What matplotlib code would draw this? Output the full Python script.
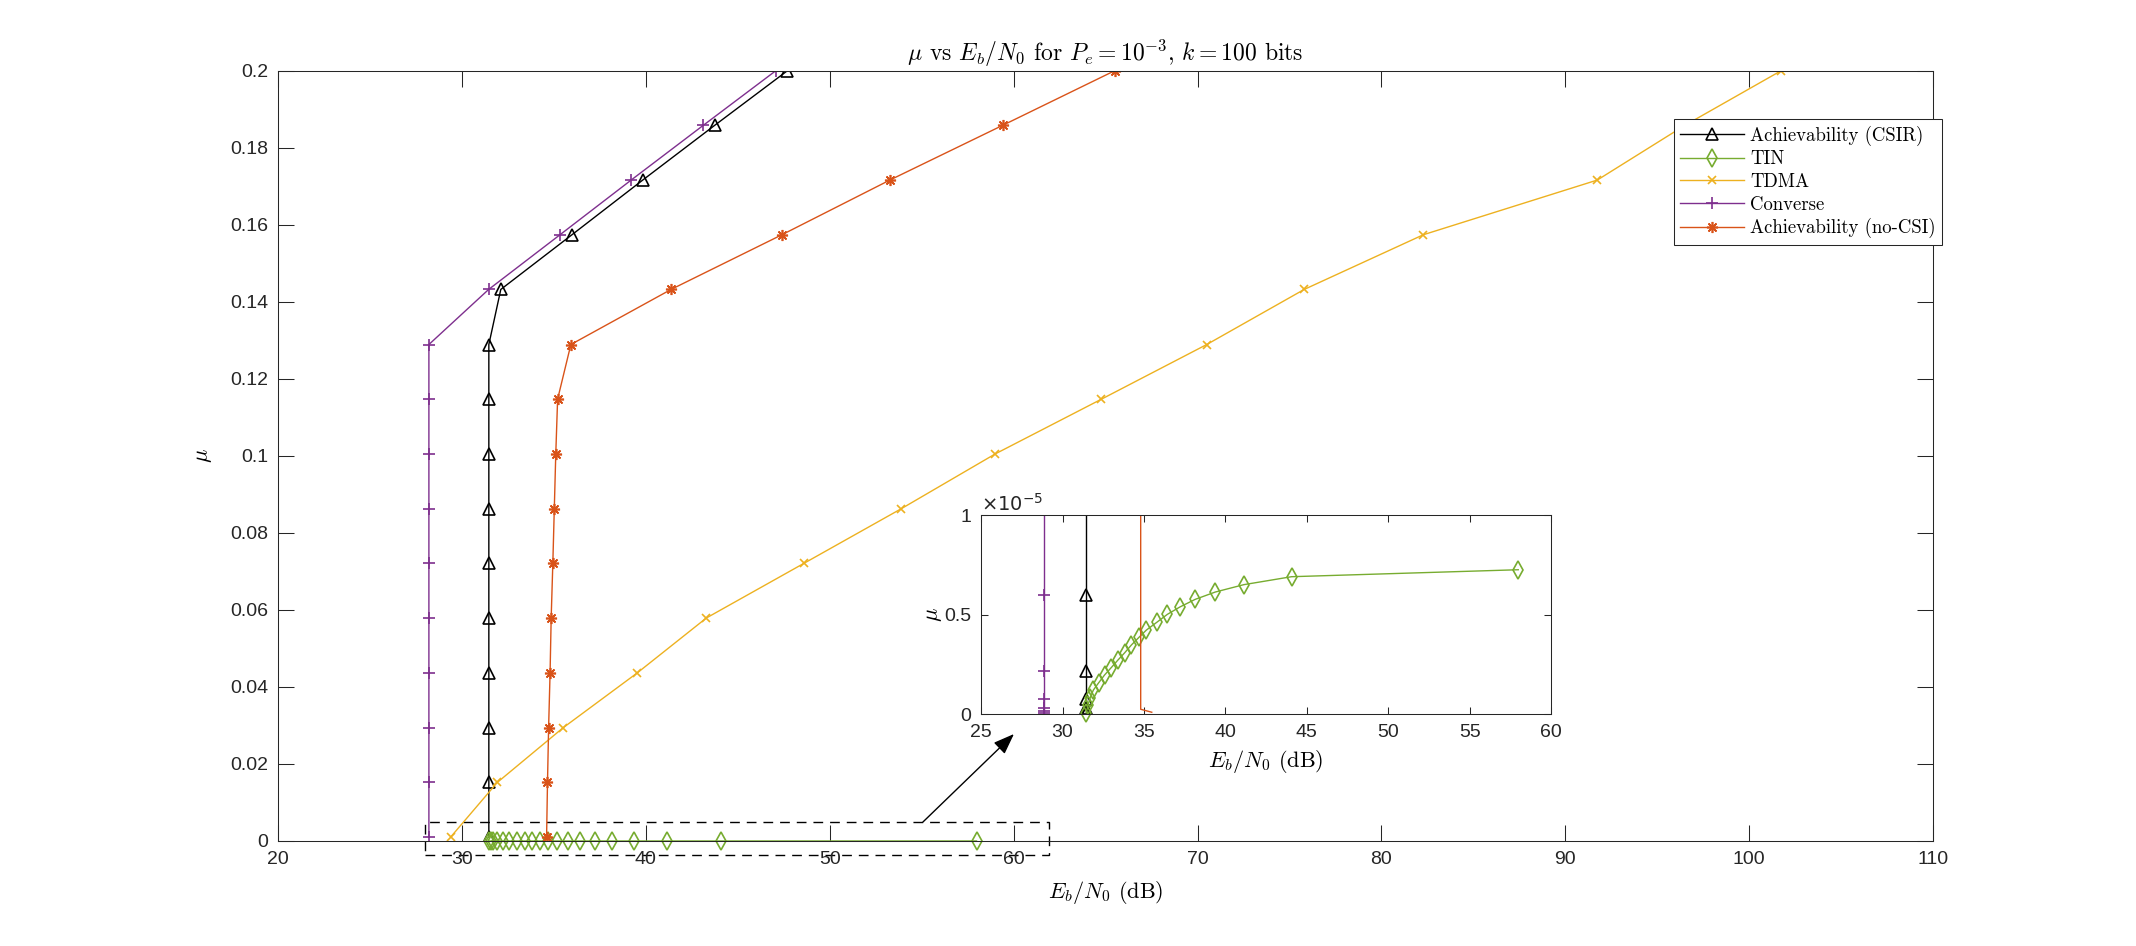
import numpy as np
import matplotlib
matplotlib.use('Agg')
import matplotlib.pyplot as plt
from matplotlib.patches import Rectangle
from matplotlib.ticker import FuncFormatter

# datos
mu = [0.001, 0.0152, 0.0294, 0.0436, 0.0579, 0.0721, 0.0863, 0.1005,
      0.1147, 0.1289, 0.1432, 0.1574, 0.1716, 0.1858, 0.2]

csir = [31.46, 31.46, 31.46, 31.46, 31.46, 31.46, 31.46, 31.46,
        31.46, 31.46, 32.11, 35.98, 39.83, 43.74, 47.7]
conv = [28.2, 28.2, 28.2, 28.2, 28.2, 28.2, 28.2, 28.2,
        28.2, 28.2, 31.45, 35.33, 39.2, 43.12, 47.07]
nocsi = [34.6, 34.65, 34.71, 34.79, 34.85, 34.94, 35.02, 35.1,
         35.2, 35.92, 41.37, 47.4, 53.27, 59.4, 65.5]
tdma = [29.38, 31.92, 35.5, 39.52, 43.29, 48.6, 53.9, 59.0,
        64.77, 70.5, 75.8, 82.28, 91.74, 96.5, 101.74]

# TIN (mu en unidades de 1e-5)
tin_ebn0 = [31.46, 31.56, 31.7, 31.89, 32.22, 32.58, 32.99, 33.4, 33.82, 34.23,
            34.69, 35.15, 35.79, 36.44, 37.21, 38.14, 39.38, 41.13, 44.06, 57.98]
tin_mu = [0.006, 0.044, 0.082, 0.12, 0.157, 0.196, 0.233, 0.271, 0.308, 0.347,
          0.385, 0.422, 0.461, 0.501, 0.538, 0.576, 0.613, 0.650, 0.690, 0.725]

# zoom (mu en unidades de 1e-5)
small_mu = [0.007, 0.015, 0.028, 0.077, 0.215, 0.6, 100]
conv_zoom = [28.88, 28.88, 28.88, 28.88, 28.88, 28.88, 28.88]
csir_zoom = [31.47, 31.47, 31.47, 31.47, 31.47, 31.47, 31.47]
nocsi_zoom = [35.48, 34.8, 34.8]
nocsi_zoom_mu = [0.009, 0.024, 100]

labels = ['Achievability (CSIR)', 'TIN', 'TDMA', 'Converse', 'Achievability (no-CSI)']

c_csir = 'k'
c_tin = '#77AC30'
c_tdma = '#EDB120'
c_conv = '#7E2F8E'
c_nocsi = '#D95319'
gris = '#262626'

plt.rcParams['mathtext.fontset'] = 'cm'
plt.rcParams['font.family'] = ['Liberation Sans', 'DejaVu Sans']

asterisco = (8, 2, 0)

fig = plt.figure(figsize=(21.36, 9.46), dpi=100)
ax = fig.add_axes([0.1302, 0.111, 0.7748, 0.8143])

mu = np.array(mu)
tin_real = np.array(tin_mu) * 1e-5

ax.plot(csir, mu, color=c_csir, lw=1, marker='^', ms=9, mfc='none', mew=1.2, label=labels[0])
ax.plot(tin_ebn0, tin_real, color=c_tin, lw=1, marker='d', ms=9, mfc='none', mew=1.2,
        label=labels[1], clip_on=False)
ax.plot(tdma, mu, color=c_tdma, lw=1, marker='x', ms=6, mew=1.2, label=labels[2])
ax.plot(conv, mu, color=c_conv, lw=1, marker='+', ms=9, mew=1.2, label=labels[3])
ax.plot(nocsi, mu, color=c_nocsi, lw=1, marker=asterisco, ms=8, mew=1.2, label=labels[4])

ax.set_xlim(20, 110)
ax.set_ylim(0, 0.2)
ax.set_xticks(np.arange(20, 111, 10))
ax.set_yticks(np.arange(0, 0.201, 0.02))
ax.yaxis.set_major_formatter(FuncFormatter(lambda v, p: '%g' % round(v, 4)))

ax.tick_params(direction='in', top=True, right=True, length=11.5, width=0.75,
               colors=gris, labelsize=14, pad=7)
for s in ax.spines.values():
    s.set_color(gris)
    s.set_linewidth(0.75)

ax.set_title(r'$\mu$ vs $E_b/N_0$ for $P_e=10^{-3}$, $k=100$ bits',
             fontfamily='cmr10', fontsize=17, pad=7)
ax.set_xlabel(r'$E_b/N_0$ (dB)', fontfamily='cmr10', fontsize=16, labelpad=8)
ax.set_ylabel(r'$\mu$', fontfamily='cmr10', fontsize=16, labelpad=12)

leg = ax.legend(loc='upper right', bbox_to_anchor=(0.9092, 0.8742),
                bbox_transform=fig.transFigure, prop={'family': 'cmr10', 'size': 13.5},
                fancybox=False, edgecolor=gris, framealpha=1, borderpad=0.35,
                handlelength=3.4, handletextpad=0.3, labelspacing=0.25, borderaxespad=0)
leg.get_frame().set_linewidth(0.75)

# rectangulo de la zona ampliada
rect = Rectangle((28, -0.0036), 33.9, 0.0085, fill=False, ec='k', lw=1,
                 ls=(0, (7, 5)), clip_on=False)
ax.add_patch(rect)

ax.annotate('', xy=(0.4747, 0.2241), xycoords='figure fraction',
            xytext=(0.4321, 0.1311), textcoords='figure fraction',
            arrowprops=dict(arrowstyle='-|>,head_length=0.8,head_width=0.3',
                            color='k', lw=1, mutation_scale=16, shrinkA=0, shrinkB=0),
            annotation_clip=False)

# grafico ampliado
axins = fig.add_axes([0.4593, 0.2452, 0.2669, 0.2104])
axins.plot(csir_zoom, small_mu, color=c_csir, lw=1, marker='^', ms=9, mfc='none', mew=1.2)
axins.plot(tin_ebn0, tin_mu, color=c_tin, lw=1, marker='d', ms=9, mfc='none', mew=1.2,
           clip_on=False)
axins.plot(conv_zoom, small_mu, color=c_conv, lw=1, marker='+', ms=9, mew=1.2)
axins.plot(nocsi_zoom, nocsi_zoom_mu, color=c_nocsi, lw=1)
axins.set_xlim(25, 60)
axins.set_ylim(0, 1)
axins.set_xticks(np.arange(25, 61, 5))
axins.set_yticks([0, 0.5, 1])
axins.yaxis.set_major_formatter(FuncFormatter(lambda v, p: '%g' % v))
axins.tick_params(direction='in', top=True, right=True, length=5, width=0.75,
                  colors=gris, labelsize=14, pad=7)
for s in axins.spines.values():
    s.set_color(gris)
    s.set_linewidth(0.75)
axins.set_xlabel(r'$E_b/N_0$ (dB)', fontfamily='cmr10', fontsize=16, labelpad=5)
axins.set_ylabel(r'$\mu$', fontfamily='cmr10', fontsize=16, labelpad=0)
axins.text(0, 1.0, r'$\times10^{-5}$', transform=axins.transAxes, ha='left', va='bottom',
           fontsize=14, color=gris, math_fontfamily='dejavusans')

fig.savefig('out.png', dpi=100, facecolor='white')
